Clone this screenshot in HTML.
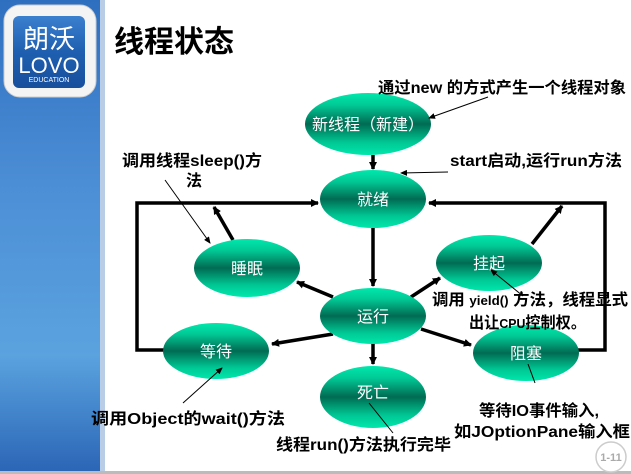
<!DOCTYPE html>
<html><head><meta charset="utf-8"><style>
body{margin:0;width:631px;height:474px;overflow:hidden;background:#fff;font-family:"Liberation Sans","Noto Sans CJK SC",sans-serif}
</style></head><body>
<svg width="631" height="474" viewBox="0 0 631 474" xmlns="http://www.w3.org/2000/svg" style="position:absolute;left:0;top:0">
<defs>
<linearGradient id="g" x1="0" y1="0" x2="0" y2="1">
<stop offset="0" stop-color="#00e8ac"/><stop offset="0.2" stop-color="#00c895"/><stop offset="0.5" stop-color="#006b52"/><stop offset="0.8" stop-color="#00c895"/><stop offset="1" stop-color="#00e8ac"/></linearGradient>
<linearGradient id="side" x1="0" y1="0" x2="0" y2="1">
<stop offset="0" stop-color="#2f6fc0"/><stop offset="0.4" stop-color="#4d8fd6"/><stop offset="0.75" stop-color="#5aa3df"/><stop offset="1" stop-color="#2a64b5"/></linearGradient>
<linearGradient id="logo" x1="0" y1="0" x2="0" y2="1">
<stop offset="0" stop-color="#3b7fcf"/><stop offset="0.5" stop-color="#1f5fb0"/><stop offset="1" stop-color="#174f9c"/></linearGradient>
<marker id="a" markerWidth="8" markerHeight="8" refX="7" refY="4" orient="auto" markerUnits="userSpaceOnUse"><path d="M0,0 L8,4 L0,8 Z" fill="#000"/></marker>
<marker id="s" markerWidth="7" markerHeight="6" refX="6" refY="3" orient="auto" markerUnits="userSpaceOnUse"><path d="M0,0 L7,3 L0,6 Z" fill="#000"/></marker>
</defs>
<rect x="0" y="0" width="100" height="474" fill="url(#side)"/>
<rect x="100" y="0" width="5" height="474" fill="#b9cde6"/>
<rect x="0" y="471" width="631" height="3" fill="#bbb"/>
<rect x="4" y="5" width="92" height="92" rx="16" fill="#f4f4f4" stroke="#ccc"/>
<rect x="13" y="16" width="72" height="72" rx="6" fill="url(#logo)"/>
<text x="49" y="48" font-size="26" fill="#fff" text-anchor="middle" font-family="Noto Sans CJK SC,sans-serif">朗沃</text>
<text x="49" y="73" font-size="22" fill="#fff" text-anchor="middle">LOVO</text>
<text x="49" y="82" font-size="7" fill="#fff" text-anchor="middle">EDUCATION</text>
<text x="114" y="52" font-size="30" font-weight="bold" font-family="Noto Sans CJK SC,sans-serif">线程状态</text>

<g stroke="#000" stroke-width="3.5" fill="none">
<polyline points="164,350 137,350 137,203 318,203" marker-end="url(#a)"/>
<polyline points="578,350 605,350 605,203 429,203" marker-end="url(#a)"/>
<line x1="233" y1="240" x2="214" y2="207" marker-end="url(#a)"/>
<line x1="532" y1="244" x2="562" y2="206" marker-end="url(#a)"/>
<line x1="373" y1="228" x2="373" y2="286" marker-end="url(#a)"/>
<line x1="333" y1="297" x2="297" y2="282" marker-end="url(#a)"/>
<line x1="411" y1="297" x2="440" y2="278" marker-end="url(#a)"/>
<line x1="333" y1="334" x2="272" y2="344" marker-end="url(#a)"/>
<line x1="421" y1="329" x2="471" y2="345" marker-end="url(#a)"/>
<line x1="373" y1="343" x2="373" y2="364" marker-end="url(#a)"/>
<line x1="373" y1="155" x2="373" y2="169" marker-end="url(#a)"/>
</g>
<g fill="url(#g)">
<ellipse cx="368" cy="124" rx="63" ry="31"/>
<ellipse cx="373" cy="199" rx="53" ry="29"/>
<ellipse cx="247" cy="268" rx="53" ry="29"/>
<ellipse cx="489" cy="263" rx="53" ry="28"/>
<ellipse cx="373" cy="316" rx="53" ry="28"/>
<ellipse cx="216" cy="351" rx="53" ry="28"/>
<ellipse cx="526" cy="353" rx="53" ry="28"/>
<ellipse cx="373" cy="397" rx="53" ry="31"/>
</g>
<g fill="#fff" font-size="16" text-anchor="middle" font-family="Noto Sans CJK SC,sans-serif">
<text x="368" y="130">新线程（新建）</text>
<text x="373" y="205">就绪</text>
<text x="247" y="274">睡眠</text>
<text x="489" y="269">挂起</text>
<text x="373" y="322">运行</text>
<text x="216" y="357">等待</text>
<text x="526" y="359">阻塞</text>
<text x="373" y="398">死亡</text>
</g>
<g stroke="#000" stroke-width="1" fill="none">
<line x1="488" y1="97" x2="429" y2="118" marker-end="url(#s)"/>
<line x1="448" y1="172" x2="401" y2="173" marker-end="url(#s)"/>
<line x1="165" y1="180" x2="210" y2="243" marker-end="url(#s)"/>
<line x1="523" y1="296" x2="491" y2="270" marker-end="url(#s)"/>
<line x1="183" y1="403" x2="222" y2="368" marker-end="url(#s)"/>
<line x1="393" y1="433" x2="369" y2="403"/>
<line x1="535" y1="383" x2="528" y2="364"/>
</g>
<g font-size="16" font-weight="bold" fill="#000" font-family="Liberation Sans,Noto Sans CJK SC,sans-serif">
<text x="378" y="93" textLength="248" lengthAdjust="spacingAndGlyphs">通过new 的方式产生一个线程对象</text>
<text x="450" y="166" textLength="172" lengthAdjust="spacingAndGlyphs">start启动,运行run方法</text>
<text x="122" y="166" textLength="140" lengthAdjust="spacingAndGlyphs">调用线程sleep()方</text>
<text x="186" y="186">法</text>
<text x="432" y="305" textLength="196" lengthAdjust="spacingAndGlyphs">调用  <tspan font-size="13">yield()</tspan> 方法，线程显式</text>
<text x="469" y="328" textLength="117" lengthAdjust="spacingAndGlyphs">出让<tspan font-size="13">CPU</tspan>控制权。</text>
<text x="91" y="424" textLength="194" lengthAdjust="spacingAndGlyphs">调用Object的wait()方法</text>
<text x="276" y="450" textLength="175" lengthAdjust="spacingAndGlyphs">线程run()方法执行完毕</text>
<text x="479" y="416" textLength="120" lengthAdjust="spacingAndGlyphs">等待IO事件输入,</text>
<text x="454" y="437" textLength="176" lengthAdjust="spacingAndGlyphs">如JOptionPane输入框</text>
</g>
<circle cx="611" cy="457" r="15" fill="#fff" stroke="#ccc" stroke-width="1.5"/>
<text x="611" y="461" font-size="11" font-weight="bold" fill="#aaa" text-anchor="middle">1-11</text>
</svg>
</body></html>
